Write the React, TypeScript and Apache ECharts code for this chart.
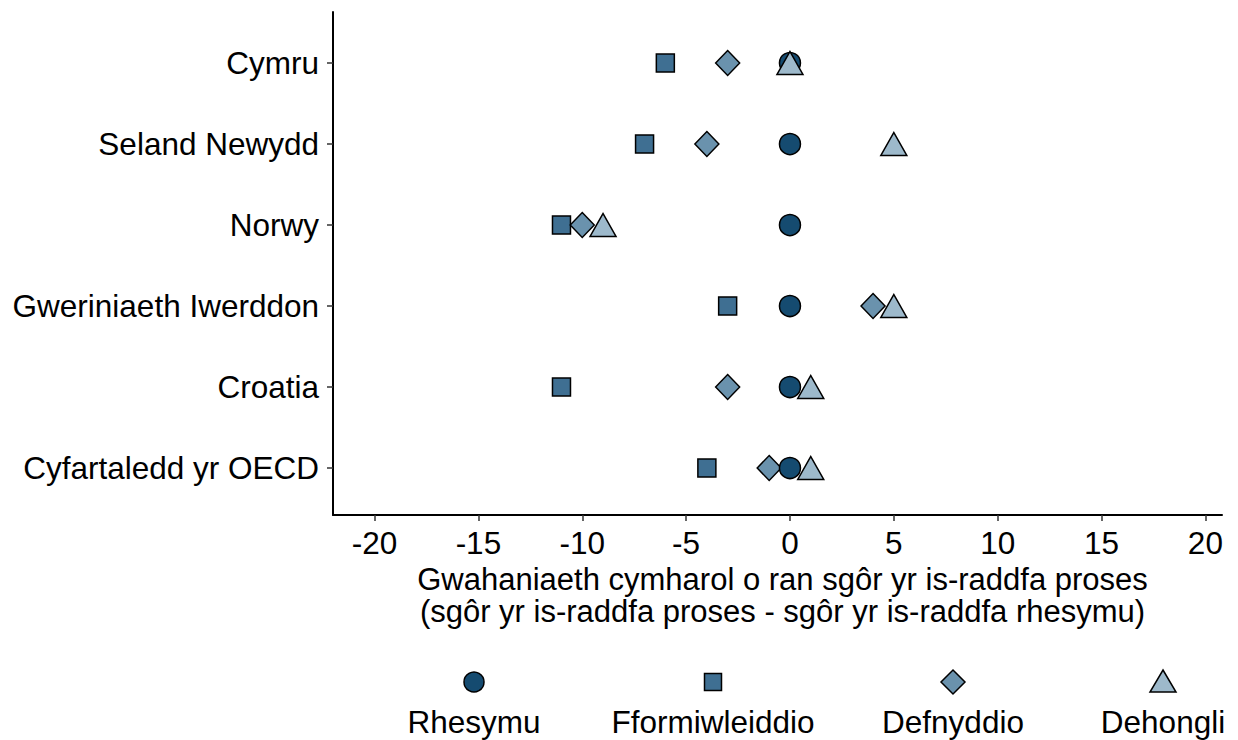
import React, { useEffect, useRef } from "react";
import * as echarts from "echarts";

const categories = ["Cymru", "Seland Newydd", "Norwy", "Gweriniaeth Iwerddon", "Croatia", "Cyfartaledd yr OECD"];
const seriesNames = ["Rhesymu", "Fformiwleiddio", "Defnyddio", "Dehongli"];
const rhesymu = [0, 0, 0, 0, 0, 0];
const fformiwleiddio = [-6, -7, -11, -3, -11, -4];
const defnyddio = [-3, -4, -10, 4, -3, -1];
const dehongli = [0, 5, -9, 5, 1, 1];
const xTicks = [-20, -15, -10, -5, 0, 5, 10, 15, 20];
const xTitle = "Gwahaniaeth cymharol o ran sgôr yr is-raddfa proses\n(sgôr yr is-raddfa proses - sgôr yr is-raddfa rhesymu)";

const colors = ["#154b70", "#3f6f92", "#6a92ad", "#9db9cb"];
const FONT = "Liberation Sans, Arial, sans-serif";
const FS = 31.5;

export default function App() {
  const ref = useRef<HTMLDivElement>(null);
  useEffect(() => {
    const chart = echarts.init(ref.current!, undefined, { renderer: "svg" });
    const n = categories.length;
    const toPts = (arr: number[]) => arr.map((v, i) => [v, n - i]);
    const yTicks = categories.map((_, i) => n - i);
    const border = { borderColor: "#000", borderWidth: 1.5 };
    const mk = (idx: number, data: number[], symbol: string, size: any, z: number) => ({
      name: seriesNames[idx],
      type: "scatter",
      data: toPts(data),
      symbol,
      symbolSize: size,
      z,
      itemStyle: { color: colors[idx], ...border, opacity: 1 },
    });
    const legendX = [474, 713, 953, 1163];
    const symY = 682;
    const labY = 722;
    const graphics: any[] = [
      { type: "circle", shape: { cx: legendX[0], cy: symY, r: 10 }, style: { fill: colors[0], stroke: "#000", lineWidth: 1.5 } },
      { type: "rect", shape: { x: legendX[1] - 8.5, y: symY - 8.5, width: 17, height: 17 }, style: { fill: colors[1], stroke: "#000", lineWidth: 1.5 } },
      { type: "polygon", shape: { points: [[legendX[2], symY - 12], [legendX[2] + 12, symY], [legendX[2], symY + 12], [legendX[2] - 12, symY]] }, style: { fill: colors[2], stroke: "#000", lineWidth: 1.5 } },
      { type: "polygon", shape: { points: [[legendX[3], symY - 12], [legendX[3] + 13, symY + 10], [legendX[3] - 13, symY + 10]] }, style: { fill: colors[3], stroke: "#000", lineWidth: 1.5 } },
      ...seriesNames.map((s, i) => ({
        type: "text",
        x: legendX[i],
        y: labY,
        style: { text: s, fontSize: FS, fontFamily: FONT, fill: "#000", align: "center", verticalAlign: "middle" },
      })),
    ];
    chart.setOption({
      animation: false,
      grid: { left: 333, top: 12, right: 16, bottom: 225, containLabel: false },
      xAxis: {
        type: "value",
        min: -22,
        max: 20.8,
        name: xTitle,
        nameLocation: "middle",
        nameGap: 48,
        nameTextStyle: { fontSize: 31, fontFamily: FONT, color: "#000", lineHeight: 32, verticalAlign: "top", padding: [0, 0, 0, 10] },
        axisLine: { show: true, onZero: false, lineStyle: { color: "#000", width: 2 } },
        axisTick: { show: true, length: 6, customValues: xTicks, lineStyle: { color: "#333", width: 1.5 } },
        axisLabel: { customValues: xTicks, fontSize: FS, fontFamily: FONT, color: "#000", margin: 12 },
        splitLine: { show: false },
      },
      yAxis: {
        type: "value",
        min: 0.42,
        max: 6.63,
        axisLine: { show: true, onZero: false, lineStyle: { color: "#000", width: 2 } },
        axisTick: { show: true, length: 6, customValues: yTicks, lineStyle: { color: "#333", width: 1.5 } },
        axisLabel: {
          customValues: yTicks,
          fontSize: FS,
          fontFamily: FONT,
          color: "#000",
          margin: 14,
          formatter: (v: number) => categories[n - Math.round(v)] ?? "",
        },
        splitLine: { show: false },
      },
      series: [
        mk(1, fformiwleiddio, "rect", 18, 1),
        mk(2, defnyddio, "diamond", [24, 25], 2),
        mk(0, rhesymu, "circle", 21, 3),
        mk(3, dehongli, "triangle", [26, 23], 4),
      ],
      graphic: graphics,
    });
    return () => chart.dispose();
  }, []);
  return <div ref={ref} style={{ position: "absolute", left: 0, top: 0, width: 1238, height: 740 }} />;
}
